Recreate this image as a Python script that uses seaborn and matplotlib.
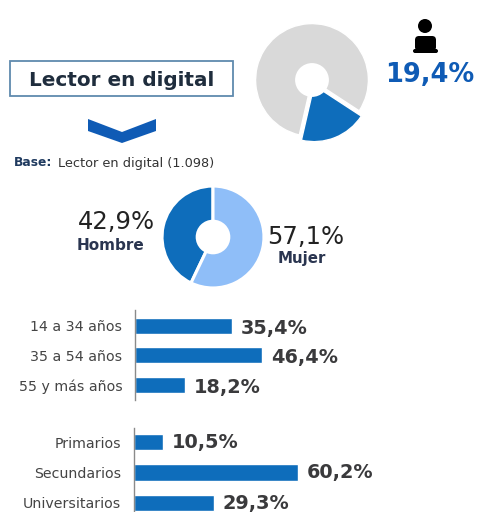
import matplotlib
matplotlib.use("Agg")
import matplotlib.pyplot as plt
from matplotlib.patches import Circle, FancyBboxPatch, Polygon, Rectangle
import pandas as pd
import seaborn as sns

sns.set_theme(style="white")
plt.rcParams["font.family"] = ["DejaVu Sans"]

W, H = 479, 512
BLUE = "#0E6DBB"
DARK = "#3A3A3C"

# data
reader_share = [19.4, 80.6]
gender_labels = ["Hombre", "Mujer"]
gender_values = [42.9, 57.1]
age_labels = ["14 a 34 años", "35 a 54 años", "55 y más años"]
age_values = [35.4, 46.4, 18.2]
edu_labels = ["Primarios", "Secundarios", "Universitarios"]
edu_values = [10.5, 60.2, 29.3]


def fmt(v):
    return f"{v:.1f}%".replace(".", ",")


def px_axes(left, top, width, height):
    return fig.add_axes([left / W, 1 - (top + height) / H, width / W, height / H])


fig = plt.figure(figsize=(W / 100, H / 100), dpi=100, facecolor="white")

# overlay in pixel coords for header items
bg = fig.add_axes([0, 0, 1, 1])
bg.set_xlim(0, W)
bg.set_ylim(H, 0)
bg.axis("off")

bg.add_patch(Rectangle((10, 61), 223, 35, fc="white", ec="#5F8AAE", lw=1.3))
bg.text(121.5, 80, "Lector en digital", ha="center", va="center", fontsize=14.4,
        fontweight="bold", color="#1F2D3D")
bg.add_patch(Polygon([(88, 119), (122, 132), (156, 119), (156, 131), (122, 143), (88, 131)],
                     fc="#0F5BB5", ec="none"))
bg.text(14, 163, "Base:", ha="left", va="center", fontsize=8.8, fontweight="bold", color="#1F3A5F")
bg.text(58, 163, "Lector en digital (1.098)", ha="left", va="center", fontsize=9.3, color="#333333")

# person at laptop icon
bg.add_patch(Circle((425, 26), 7, fc="black", ec="none"))
bg.add_patch(FancyBboxPatch((415, 36), 21, 15, boxstyle="round,pad=0,rounding_size=4", fc="black", ec="none"))
bg.add_patch(FancyBboxPatch((413, 49), 25, 4, boxstyle="round,pad=0,rounding_size=2", fc="black", ec="none"))
bg.text(430, 75, fmt(reader_share[0]), ha="center", va="center", fontsize=18.5,
        fontweight="bold", color="#0F5BB5")

bg.text(116, 222, fmt(gender_values[0]), ha="center", va="center", fontsize=17.5, color="#222222")
bg.text(111, 246, gender_labels[0], ha="center", va="center", fontsize=11, fontweight="bold", color="#2A3550")
bg.text(306, 237, fmt(gender_values[1]), ha="center", va="center", fontsize=17.5, color="#222222")
bg.text(302, 258, gender_labels[1], ha="center", va="center", fontsize=10.8, fontweight="bold", color="#2A3550")

# top donut
ax1 = px_axes(248, 14, 128, 132)
ax1.pie(reader_share, colors=[BLUE, "#D9D9D9"], startangle=-103, counterclock=True,
        explode=[0.1, 0], radius=1, wedgeprops={"edgecolor": "white", "linewidth": 1})
ax1.add_patch(Circle((0, 0), 0.3, fc="white", ec="none", zorder=5))
ax1.set_xlim(-1.13, 1.13)
ax1.set_ylim(-1.17, 1.17)

# gender donut
ax2 = px_axes(160, 184, 106, 106)
ax2.pie(gender_values, colors=[BLUE, "#8FBEF8"], startangle=90, counterclock=True, radius=1,
        wedgeprops={"edgecolor": "white", "linewidth": 2.2})
ax2.add_patch(Circle((0, 0), 0.34, fc="white", ec="none", zorder=5))
ax2.set_xlim(-1.04, 1.04)
ax2.set_ylim(-1.04, 1.04)


def hbars(ax, labels, values, ylim, scale, drop):
    df = pd.DataFrame({"label": labels, "value": values})
    sns.barplot(data=df, x="value", y="label", color=BLUE, saturation=1, width=0.54, ax=ax)
    ax.set_xlim(0, 300 / scale)
    ax.set_ylim(*ylim)
    ax.set_xlabel("")
    ax.set_ylabel("")
    ax.set_xticks([])
    ax.patch.set_alpha(0)
    sns.despine(ax=ax, left=False, bottom=True, top=True, right=True)
    ax.spines["left"].set_color("#8A8A8A")
    ax.spines["left"].set_linewidth(1)
    ax.tick_params(axis="y", length=0, pad=9, labelsize=10.2, labelcolor="#444444")
    texts = ax.bar_label(ax.containers[0], labels=[fmt(v) for v in values], padding=6,
                         fontsize=13.9, fontweight="bold", color=DARK)
    # labels sit a bit below the bar centre
    for t in texts:
        t.xyann = (t.xyann[0] + 0.5, t.xyann[1] - drop)


# age bars
ax3 = px_axes(135, 310, 300, 90)
hbars(ax3, age_labels, age_values, (2.51, -0.54), 2.74, 1.5)

# education bars
ax4 = px_axes(134, 428, 300, 84)
hbars(ax4, edu_labels, edu_values, (2.3, -0.46), 2.72, 0.3)

fig.savefig("out.png", dpi=100)
